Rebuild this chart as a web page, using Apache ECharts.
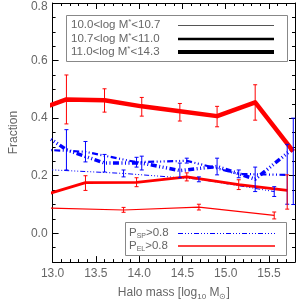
<!DOCTYPE html>
<html>
<head>
<meta charset="utf-8">
<script src="https://cdn.jsdelivr.net/npm/echarts@6/dist/echarts.min.js"></script>
<style>html,body{margin:0;padding:0;background:#fff}#c{width:306px;height:306px}</style>
</head>
<body>
<div id="c"></div>
<script>
// Halo mass bin centres (log10 Msun) for each stellar-mass bin
const thickX = [12.72, 13.16, 13.60, 14.03, 14.47, 14.90, 15.34, 15.78];
const medX   = [12.80, 13.38, 13.97, 14.55, 15.15, 15.71];
const thinX  = [12.95, 13.82, 14.69, 15.56];

// 11.0<log M*<14.3
const redThick   = [0.418, 0.465, 0.462, 0.441, 0.424, 0.407, 0.455, 0.285];
const redThickLo = [null, 0.380, 0.421, 0.407, 0.390, 0.370, 0.393, null];
const redThickHi = [null, 0.550, 0.502, 0.472, 0.451, 0.441, 0.516, null];
const blueThick   = [0.381, 0.290, 0.244, 0.244, 0.218, 0.232, 0.188, 0.295];
const blueThickLo = [null, 0.220, 0.213, 0.220, 0.193, 0.203, 0.145, 0.100];
const blueThickHi = [null, 0.360, 0.274, 0.268, 0.244, 0.261, 0.230, 0.400];

// 10.7<log M*<11.0
const redMed   = [0.124, 0.176, 0.177, 0.196, 0.169, 0.149];
const redMedLo = [null, 0.149, 0.162, 0.182, 0.152, 0.084];
const redMedHi = [null, 0.200, 0.193, 0.210, 0.186, 0.203];
const blueMed   = [0.292, 0.283, 0.247, 0.252, 0.206, 0.203];
const blueMedLo = [null, 0.248, 0.230, 0.244, 0.193, 0.101];
const blueMedHi = [null, 0.319, 0.264, 0.261, 0.220, 0.309];

// 10.0<log M*<10.7
const redThin   = [0.088, 0.081, 0.091, 0.062];
const redThinLo = [null, 0.073, 0.081, 0.050];
const redThinHi = [null, 0.090, 0.101, 0.074];
const blueThin   = [0.221, 0.208, 0.188, 0.145];
const blueThinLo = [null, 0.196, 0.179, 0.128];
const blueThinHi = [null, 0.220, 0.196, 0.162];

const yTickValues = [0.0, 0.2, 0.4, 0.6, 0.8];

const FONT = '"Liberation Sans", Arial, sans-serif';
const GRAY = '#666';
const RED = '#ff0000';
const BLUE = '#0000ff';

function pairs(xs, ys) { return xs.map((x, i) => [x, ys[i]]); }
function errs(xs, lo, hi) {
  const out = [];
  xs.forEach((x, i) => { if (lo[i] != null) out.push([x, lo[i], hi[i]]); });
  return out;
}
function lineSeries(xs, ys, color, width, dash, z) {
  return {
    type: 'line', data: pairs(xs, ys), symbol: 'none', showSymbol: false,
    clip: true, silent: true, animation: false, z: z,
    lineStyle: { color: color, width: width, type: dash || 'solid', cap: 'butt', join: 'round' }
  };
}
function errSeries(xs, lo, hi, color, cap, z) {
  return {
    type: 'custom', data: errs(xs, lo, hi), clip: true, silent: true, animation: false, z: z,
    encode: { x: 0, y: [1, 2] },
    renderItem: function (params, api) {
      const x = api.value(0);
      const p1 = api.coord([x, api.value(1)]);
      const p2 = api.coord([x, api.value(2)]);
      const st = { stroke: color, lineWidth: 1 };
      return {
        type: 'group', children: [
          { type: 'line', shape: { x1: p1[0], y1: p1[1], x2: p2[0], y2: p2[1] }, style: st },
          { type: 'line', shape: { x1: p1[0] - cap, y1: p1[1], x2: p1[0] + cap, y2: p1[1] }, style: st },
          { type: 'line', shape: { x1: p2[0] - cap, y1: p2[1], x2: p2[0] + cap, y2: p2[1] }, style: st }
        ]
      };
    }
  };
}

const dashThin  = [5, 2, 1, 2, 1, 2, 1, 2];
const dashMed   = [6, 2.5, 1, 2.5, 1, 2.5, 1, 2.5];
const dashThick = [6, 2.5, 1, 2.5, 1, 2.5, 1, 2.5];

const tickStyle = { color: '#000', width: 1 };
function xAx(pos, major) {
  return {
    type: 'value', min: 13.0, max: 15.8, interval: major ? 0.5 : 0.1, position: pos,
    axisLine: { show: major, onZero: false, lineStyle: { color: '#000', width: 1 } },
    axisTick: { show: true, inside: true, length: major ? 6 : 3, lineStyle: tickStyle },
    axisLabel: (major && pos === 'bottom') ? {
      show: true, color: GRAY, fontSize: 12, fontFamily: FONT, margin: 6, showMaxLabel: false,
      formatter: v => v.toFixed(1)
    } : { show: false },
    splitLine: { show: false }
  };
}
function yAx(pos, major) {
  const a = {
    type: 'value', min: -0.1, max: 0.8, position: pos,
    axisLine: { show: major, onZero: false, lineStyle: { color: '#000', width: 1 } },
    axisTick: major ? { show: true, inside: true, length: 6, lineStyle: tickStyle, customValues: yTickValues }
                    : { show: true, inside: true, length: 3, lineStyle: tickStyle },
    axisLabel: { show: false },
    splitLine: { show: false }
  };
  if (!major) a.interval = 0.05;
  if (major && pos === 'left') {
    a.axisLabel = {
      show: true, color: GRAY, fontSize: 12, fontFamily: FONT, margin: 5, customValues: yTickValues,
      formatter: v => (Math.abs(v - 0.8) < 1e-9 ? '{t|0.8}' : v.toFixed(1)),
      rich: { t: { color: GRAY, fontSize: 12, fontFamily: FONT, padding: [8, 0, 0, 0] } }
    };
  }
  return a;
}

const xAxes = [xAx('bottom', true), xAx('bottom', false), xAx('top', true), xAx('top', false)];
xAxes[0].name = 'Halo mass [log{s|10} M{s|⊙}]';
xAxes[0].nameLocation = 'middle';
xAxes[0].nameGap = 22;
xAxes[0].nameTextStyle = {
  color: GRAY, fontSize: 12, fontFamily: FONT, lineHeight: 16,
  rich: { s: { color: GRAY, fontSize: 8, fontFamily: FONT, verticalAlign: 'bottom', lineHeight: 10 } }
};
const yAxes = [yAx('left', true), yAx('left', false), yAx('right', true), yAx('right', false)];
yAxes[0].name = 'Fraction';
yAxes[0].nameLocation = 'middle';
yAxes[0].nameGap = 28;
yAxes[0].nameRotate = 90;
yAxes[0].nameTextStyle = { color: GRAY, fontSize: 12, fontFamily: FONT };

const series = [
  lineSeries(thinX, blueThin, BLUE, 1, dashThin, 2),
  lineSeries(medX, blueMed, BLUE, 2.2, dashMed, 2),
  lineSeries(thickX, blueThick, BLUE, 3.5, dashThick, 2),
  lineSeries(thinX, redThin, RED, 1.2, null, 3),
  lineSeries(medX, redMed, RED, 2.8, null, 3),
  lineSeries(thickX, redThick, RED, 4.5, null, 3),
  errSeries(thinX, blueThinLo, blueThinHi, BLUE, 2, 4),
  errSeries(medX, blueMedLo, blueMedHi, BLUE, 2, 4),
  errSeries(thickX, blueThickLo, blueThickHi, BLUE, 2, 4),
  errSeries(thinX, redThinLo, redThinHi, RED, 2, 5),
  errSeries(medX, redMedLo, redMedHi, RED, 2, 5),
  errSeries(thickX, redThickLo, redThickHi, RED, 2, 5)
];

function txt(x, y, text, rich) {
  return {
    type: 'text', x: x, y: y, z: 101,
    style: {
      text: text, fill: GRAY, fontSize: 11.5, fontFamily: FONT, align: 'left', verticalAlign: 'middle',
      lineHeight: 14, rich: rich
    }
  };
}
const supRich = { sup: { fill: GRAY, fontSize: 8, fontFamily: FONT, verticalAlign: 'top', lineHeight: 14 } };
const subRich = { sub: { fill: GRAY, fontSize: 7, fontFamily: FONT, verticalAlign: 'bottom', lineHeight: 8 } };
function seg(x1, x2, y, color, width, dash) {
  return { type: 'line', z: 101, shape: { x1: x1, y1: y, x2: x2, y2: y },
           style: { stroke: color, lineWidth: width, lineDash: dash || null } };
}

const graphic = [
  { type: 'rect', z: 100, shape: { x: 66.5, y: 15.5, width: 221, height: 46 },
    style: { fill: '#fff', stroke: '#888', lineWidth: 1 } },
  txt(71, 25, '10.0<log M{sup|*}<10.7', supRich),
  txt(71, 39, '10.7<log M{sup|*}<11.0', supRich),
  txt(71, 52, '11.0<log M{sup|*}<14.3', supRich),
  seg(178, 274, 25.5, '#555', 1),
  seg(178, 274, 39, '#000', 2.5),
  seg(178, 274, 52, '#000', 4),
  { type: 'rect', z: 100, shape: { x: 125.5, y: 222.5, width: 161, height: 33 },
    style: { fill: '#fff', stroke: '#888', lineWidth: 1 } },
  txt(129, 233, 'P{sub|SP}>0.8', subRich),
  txt(129, 246, 'P{sub|EL}>0.8', subRich),
  seg(178, 275, 233.5, BLUE, 1, dashThin),
  seg(178, 275, 246, RED, 1.5)
];

const chart = echarts.init(document.getElementById('c'), null, { renderer: 'canvas' });
chart.setOption({
  animation: false,
  backgroundColor: '#fff',
  grid: { left: 47, right: 11, top: 3, bottom: 37, containLabel: false },
  xAxis: xAxes,
  yAxis: yAxes,
  series: series,
  graphic: graphic
});
</script>
</body>
</html>
